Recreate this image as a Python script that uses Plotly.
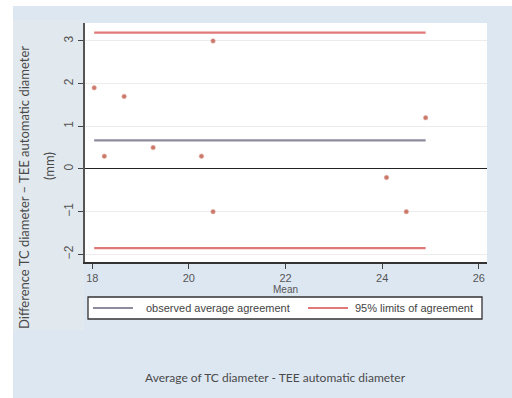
import plotly.graph_objects as go

# Bland-Altman data: mean of the two methods vs. their difference (mm)
mean_tc_tee = [18.04, 18.25, 18.66, 19.26, 20.26, 20.50, 20.50, 24.09, 24.50, 24.90]
diff_tc_tee = [1.9, 0.3, 1.7, 0.5, 0.3, 3.0, -1.0, -0.2, -1.0, 1.2]

x_ticks = [18, 20, 22, 24, 26]
y_ticks = [-2, -1, 0, 1, 2, 3]

legend_labels = ["observed average agreement", "95% limits of agreement"]

n = len(diff_tc_tee)
bias = sum(diff_tc_tee) / n
sd = (sum((d - bias) ** 2 for d in diff_tc_tee) / (n - 1)) ** 0.5
upper_loa = bias + 1.96 * sd
lower_loa = bias - 1.96 * sd
x_span = [min(mean_tc_tee), max(mean_tc_tee)]

# plot area in pixels
W, H = 512, 398
L, R, T, B = 85, 25, 23, 136
pw, ph = W - L - R, H - T - B


def px_x(p):
    return (p - L) / pw


def px_y(p):
    return (H - B - p) / ph


RED = "#e07a78"
GREY = "#8e8c9c"
BLUE_BG = "#dde7f2"

fig = go.Figure()

fig.add_trace(go.Scatter(
    x=x_span, y=[bias, bias], mode="lines",
    line=dict(color=GREY, width=2.2), name=legend_labels[0], showlegend=False,
))
for lim in (upper_loa, lower_loa):
    fig.add_trace(go.Scatter(
        x=x_span, y=[lim, lim], mode="lines",
        line=dict(color=RED, width=2.2), name=legend_labels[1], showlegend=False,
    ))
fig.add_trace(go.Scatter(
    x=mean_tc_tee, y=diff_tc_tee, mode="markers",
    marker=dict(color="#c9786a", size=4.5,
                line=dict(color="rgba(230,170,160,0.6)", width=1)),
    showlegend=False,
))

shapes = [
    # white strips along the left and top edges
    dict(type="rect", xref="paper", yref="paper",
         x0=px_x(-5), x1=px_x(13), y0=px_y(405), y1=px_y(-5),
         fillcolor="white", line_width=0, layer="below"),
    dict(type="rect", xref="paper", yref="paper",
         x0=px_x(-5), x1=px_x(517), y0=px_y(6), y1=px_y(-5),
         fillcolor="white", line_width=0, layer="below"),
    # slightly lighter panel behind the y-axis title
    dict(type="rect", xref="paper", yref="paper",
         x0=px_x(13), x1=px_x(84), y0=px_y(330), y1=px_y(20),
         fillcolor="#e2e9ee", line_width=0, layer="below"),
    # legend box with its two line keys
    dict(type="rect", xref="paper", yref="paper",
         x0=px_x(88), x1=px_x(482), y0=px_y(319), y1=px_y(297),
         fillcolor="white", line=dict(color="#333", width=1.3)),
    dict(type="line", xref="paper", yref="paper",
         x0=px_x(93), x1=px_x(133), y0=px_y(308), y1=px_y(308),
         line=dict(color=GREY, width=2)),
    dict(type="line", xref="paper", yref="paper",
         x0=px_x(308), x1=px_x(348), y0=px_y(308), y1=px_y(308),
         line=dict(color=RED, width=2)),
]

annotations = [
    dict(text="Difference TC diameter \u2013 TEE automatic diameter",
         xref="paper", yref="paper", x=px_x(24), y=px_y(188),
         textangle=-90, showarrow=False, xanchor="center", yanchor="middle",
         font=dict(family="Lato", size=13, color="#4a4a4a")),
    dict(text="(mm)",
         xref="paper", yref="paper", x=px_x(49), y=px_y(166),
         textangle=-90, showarrow=False, xanchor="center", yanchor="middle",
         font=dict(family="Lato", size=13, color="#4a4a4a")),
    dict(text="Mean", xref="x", yref="paper", x=22, y=px_y(289),
         showarrow=False, xanchor="center", yanchor="middle",
         font=dict(family="Arial", size=10, color="#555")),
    dict(text="Average of TC diameter - TEE automatic diameter",
         xref="paper", yref="paper", x=px_x(275), y=px_y(377),
         showarrow=False, xanchor="center", yanchor="middle",
         font=dict(family="Lato", size=12, color="#4a4a4a")),
    dict(text=legend_labels[0], xref="paper", yref="paper",
         x=px_x(144), y=px_y(308), showarrow=False,
         xanchor="left", yanchor="middle",
         font=dict(family="Arial", size=11, color="#444")),
    dict(text=legend_labels[1], xref="paper", yref="paper",
         x=px_x(353), y=px_y(308), showarrow=False,
         xanchor="left", yanchor="middle",
         font=dict(family="Arial", size=11, color="#444")),
]

fig.update_layout(
    width=W, height=H,
    margin=dict(l=L, r=R, t=T, b=B, pad=0),
    paper_bgcolor=BLUE_BG, plot_bgcolor="white",
    shapes=shapes, annotations=annotations,
    font=dict(family="Arial", size=11, color="#444"),
    showlegend=False,
)

fig.update_xaxes(
    range=[17.85, 26.17], tickvals=x_ticks, ticks="outside", ticklen=5,
    tickcolor="#444", showline=True, linecolor="#333", linewidth=1.5,
    showgrid=False, zeroline=False,
    tickfont=dict(family="Arial", size=11, color="#555"),
)
fig.update_yaxes(
    range=[-2.18, 3.42], tickvals=y_ticks, ticks="outside", ticklen=5,
    tickcolor="#444", showline=True, linecolor="#555", linewidth=1.5,
    showgrid=True, gridcolor="#ececec", gridwidth=1,
    zeroline=True, zerolinecolor="#222", zerolinewidth=1.2,
    tickangle=-90,
    tickfont=dict(family="Arial", size=12, color="#555"),
)

fig.write_html("out.html")
